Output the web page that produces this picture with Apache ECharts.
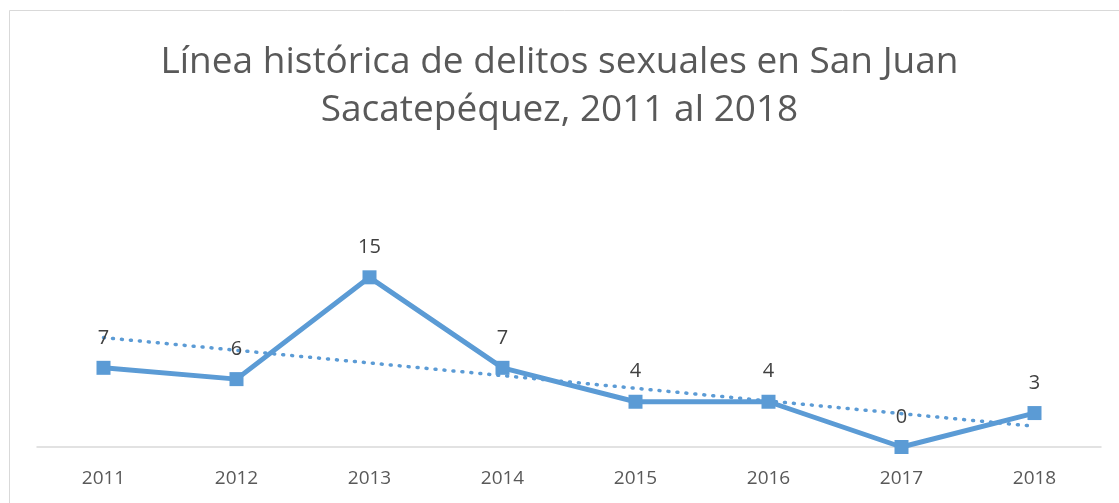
<!DOCTYPE html>
<html>
<head>
<meta charset="utf-8">
<script src="https://cdn.jsdelivr.net/npm/echarts@6/dist/echarts.min.js"></script>
<style>
  html, body { margin: 0; padding: 0; background: #fff; }
  #chart { width: 1119px; height: 503px; }
</style>
</head>
<body>
<div id="chart"></div>
<script>
const years = ["2011", "2012", "2013", "2014", "2015", "2016", "2017", "2018"];
const delitos = [7, 6, 15, 7, 4, 4, 0, 3];
// linear trend (first and last category)
const trendStart = 9.67;
const trendEnd = 1.83;

const chart = echarts.init(document.getElementById("chart"));

const trendData = years.map((y, i) =>
  i === 0 ? trendStart : i === years.length - 1 ? trendEnd : null
);

const option = {
  backgroundColor: "#fff",
  animation: false,
  title: {
    text: "Línea histórica de delitos sexuales en San Juan\nSacatepéquez, 2011 al 2018",
    left: "center",
    top: 33,
    textStyle: {
      fontFamily: "Open Sans",
      fontWeight: "normal",
      fontSize: 37,
      lineHeight: 48,
      color: "#595959",
    },
  },
  graphic: [
    {
      type: "rect",
      shape: { x: 9.5, y: 10.5, width: 1130, height: 520 },
      style: { fill: "none", stroke: "#d9d9d9", lineWidth: 1 },
      silent: true,
    },
  ],
  grid: {
    left: 37,
    right: 18,
    top: 266,
    bottom: 56,
  },
  xAxis: {
    type: "category",
    data: years,
    boundaryGap: true,
    axisLine: { lineStyle: { color: "#d9d9d9", width: 1.5 } },
    axisTick: { show: false },
    axisLabel: {
      color: "#595959",
      fontSize: 19,
      fontFamily: "Open Sans",
      margin: 22,
    },
  },
  yAxis: {
    type: "value",
    min: 0,
    max: 16,
    show: false,
    splitLine: { show: false },
  },
  series: [
    {
      name: "Tendencia",
      type: "line",
      data: trendData,
      connectNulls: true,
      symbol: "none",
      lineStyle: { color: "#5B9BD5", width: 3.5, type: [1, 8], cap: "round" },
      z: 1,
    },
    {
      name: "Delitos sexuales",
      type: "line",
      data: delitos,
      symbol: "rect",
      symbolSize: 14,
      itemStyle: { color: "#5B9BD5" },
      lineStyle: { color: "#5B9BD5", width: 5 },
      label: {
        show: true,
        position: "top",
        distance: 13,
        color: "#404040",
        fontSize: 20,
        fontFamily: "Open Sans",
      },
      z: 2,
    },
  ],
};

chart.setOption(option);
</script>
</body>
</html>
